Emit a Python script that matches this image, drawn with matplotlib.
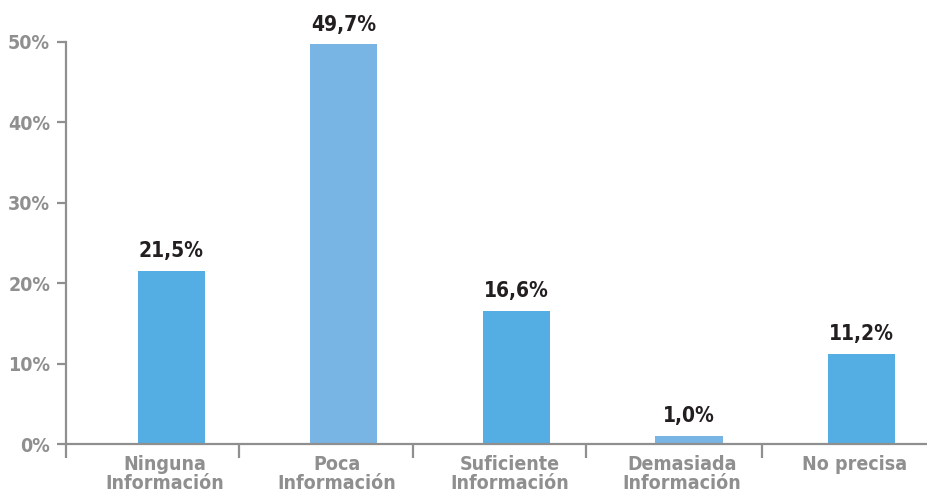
import numpy as np
import matplotlib
matplotlib.use('Agg')
import matplotlib.pyplot as plt

categorias = ['Ninguna\nInformación', 'Poca\nInformación', 'Suficiente\nInformación',
              'Demasiada\nInformación', 'No precisa']
valores = [21.5, 49.7, 16.6, 1.0, 11.2]
etiquetas = ['21,5%', '49,7%', '16,6%', '1,0%', '11,2%']
colores = ['#54aee3', '#79b5e4', '#54aee3', '#79b5e4', '#54aee3']
yticks = [0, 10, 20, 30, 40, 50]

plt.rcParams['font.family'] = ['DejaVu Sans']
plt.rcParams['font.stretch'] = 'condensed'
gris = '#8f8f8f'

fig = plt.figure(figsize=(9.27, 4.94), dpi=100)
ax = fig.add_axes([0.0712, 0.1012, 0.9288, 0.8138])

x = np.arange(len(valores))
ax.bar(x, valores, width=0.39, color=colores)

# etiquetas de valor sobre cada barra
for xi, v, s in zip(x, valores, etiquetas):
    ax.annotate(s, (xi, v), xytext=(0, 7), textcoords='offset points',
                ha='center', va='bottom', fontsize=15, fontweight='bold', color='#231f20')

ax.set_xlim(-0.61, 4.38)
ax.set_ylim(0, 50)
ax.set_yticks(yticks)
ax.set_yticklabels(['%d%%' % t for t in yticks])

ax.set_xticks(x - 0.04)
ax.set_xticklabels(categorias, linespacing=0.98)
ax.set_xticks([-0.61, 0.395, 1.403, 2.406, 3.426], minor=True)

for s in ['top', 'right']:
    ax.spines[s].set_visible(False)
for s in ['left', 'bottom']:
    ax.spines[s].set_color(gris)
    ax.spines[s].set_linewidth(1.6)
ax.spines['left'].set_bounds(0, 50)

ax.tick_params(axis='y', length=6.5, width=1.6, color=gris, pad=5,
               labelsize=14, labelcolor=gris)
ax.tick_params(axis='x', which='major', length=0, pad=8,
               labelsize=14, labelcolor=gris)
ax.tick_params(axis='x', which='minor', length=10, width=1.6, color=gris)
for lab in ax.get_xticklabels() + ax.get_yticklabels():
    lab.set_fontweight('bold')

fig.savefig('out.png', dpi=100)
